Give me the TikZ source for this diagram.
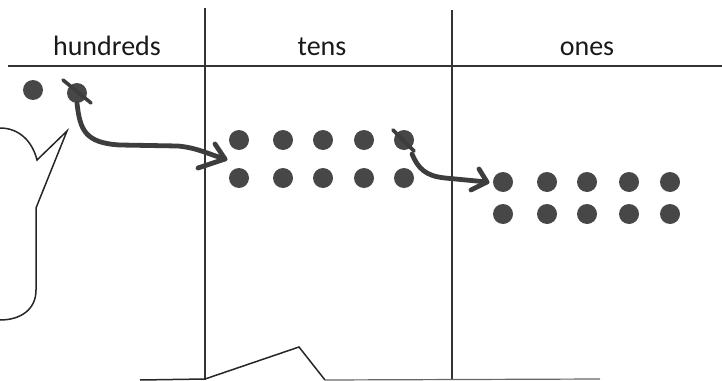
\documentclass[tikz,border=0pt]{standalone}
\usepackage{fontspec}
\setmainfont{Carlito}
\begin{document}
\begin{tikzpicture}[x=1pt,y=-1pt,
  rule/.style={draw=black!80,line width=1.4pt},
  dot/.style={circle,fill=black!72,minimum size=20pt,inner sep=0pt},
  hand/.style={draw=black!76,line width=4.8pt,line cap=round,line join=round},
  head/.style={anchor=base,font=\fontsize{28}{30}\selectfont,text=black!90}]
\useasboundingbox (0,0) rectangle (722,380);
% grid
\coordinate (hl) at (8,66); \coordinate (hr) at (722,66);
\coordinate (v1t) at (205,8); \coordinate (v1b) at (205,380);
\coordinate (v2t) at (452,10); \coordinate (v2b) at (452,380);
\draw[rule] (hl) -- (hr);
\draw[rule] (v1t) -- (v1b);
\draw[rule] (v2t) -- (v2b);
% headers
\node[head] (hh) at (107,55) {hundreds};
\node[head] (ht) at (322,55) {tens};
\node[head] (ho) at (587,55) {ones};
% hundreds dots
\node[dot] (h1) at (33,90) {};
\node[dot] (h2) at (77,93) {};
% tens dots
\foreach \i/\x in {1/239,2/283,3/323,4/364,5/404}{
  \node[dot] (ta\i) at (\x,140) {};
  \node[dot] (tb\i) at (\x,178) {};
}
% ones dots
\foreach \i/\x in {1/503,2/547,3/587,4/629,5/670}{
  \node[dot] (oa\i) at (\x,182) {};
  \node[dot] (ob\i) at (\x,214) {};
}
% cross-out strokes
\draw[hand,line width=3.6pt] ([shift={(-14,-13)}]h2.center) -- ([shift={(14,10)}]h2.center);
\draw[hand,line width=3.6pt] ([shift={(-11,-10)}]ta5.center) -- ([shift={(10,11)}]ta5.center);
% arrow 1
\coordinate (a1tip) at (225,159);
\draw[hand] (h2.south) .. controls (80,130) and (85,143) .. (120,145)
  -- (178,146) .. controls (198,148) and (208,154) .. (a1tip);
\draw[hand] (215,144) -- (a1tip) -- (198,168);
% arrow 2
\coordinate (a2tip) at (487,182);
\draw[hand] ([shift={(8,14)}]ta5.center) .. controls (418,168) and (425,176) .. (445,178)
  -- (a2tip);
\draw[hand] (479,169) -- (a2tip) -- (471,190);
% speech bubble
\coordinate (b1) at (0,128);
\coordinate (btip) at (67,131);
\draw[black!85,line width=1.5pt,line join=miter]
  (b1) .. controls (18,128) and (32,140) .. (37,160)
  -- (btip) -- (36,208) -- (36,290)
  .. controls (36,310) and (20,320) .. (0,320);
% bottom shape
\coordinate (p1) at (140,380);
\coordinate (p2) at (205,379);
\coordinate (p3) at (299,347);
\coordinate (p4) at (325,380);
\coordinate (p5) at (600,379);
\draw[black!85,line width=1.5pt] (p1) -- (p2) -- (p3) -- (p4);
\draw[black!60,line width=1.2pt] (p4) -- (p5);
\end{tikzpicture}
\end{document}
